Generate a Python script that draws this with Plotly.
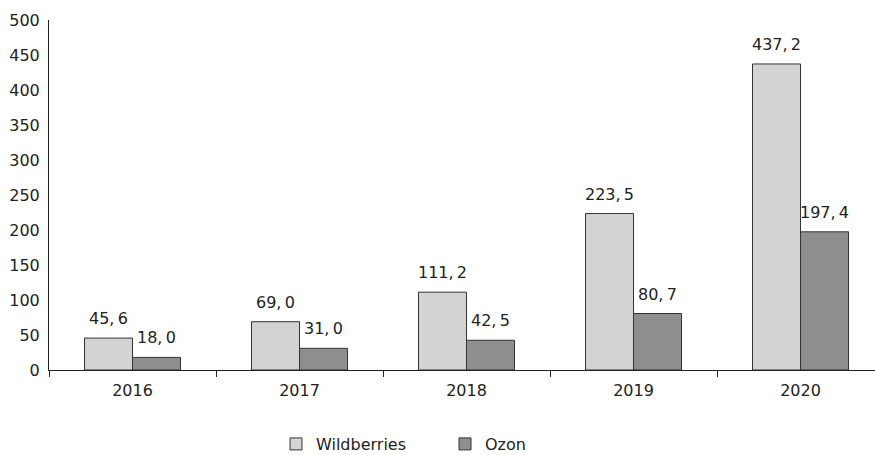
import plotly.graph_objects as go

years = ["2016", "2017", "2018", "2019", "2020"]
wildberries = [45.6, 69.0, 111.2, 223.5, 437.2]
ozon = [18.0, 31.0, 42.5, 80.7, 197.4]
y_ticks = [0, 50, 100, 150, 200, 250, 300, 350, 400, 450, 500]

def fmt(v):
    return f"{v:.1f}".replace(".", ",\u2009")

font = "DejaVu Sans"
fs = 16
fig = go.Figure()
fig.add_trace(go.Bar(name="Wildberries", x=years, y=wildberries,
                     marker=dict(color="#d3d3d3", line=dict(color="#333333", width=1))))
fig.add_trace(go.Bar(name="Ozon", x=years, y=ozon,
                     marker=dict(color="#8e8e8e", line=dict(color="#333333", width=1))))

for i, v in enumerate(wildberries):
    fig.add_annotation(x=i, y=v, xref="x", yref="y", text=fmt(v), showarrow=False, xshift=-24,
                       yanchor="bottom", yshift=8, font=dict(size=fs, color="#222", family=font))
for i, v in enumerate(ozon):
    fig.add_annotation(x=i, y=v, xref="x", yref="y", text=fmt(v), showarrow=False, xshift=24,
                       yanchor="bottom", yshift=8, font=dict(size=fs, color="#222", family=font))

fig.update_layout(
    width=875, height=455,
    margin=dict(l=49, r=0, t=20, b=85, autoexpand=False),
    plot_bgcolor="white", paper_bgcolor="white",
    barmode="group", bargap=0.425, bargroupgap=0,
    font=dict(family=font, size=fs, color="#222"),
    showlegend=True,
    legend=dict(orientation="h", xref="container", yref="container",
                x=276 / 875, xanchor="left", y=1 - 444 / 455, yanchor="middle",
                font=dict(size=fs), itemwidth=30, entrywidth=124, traceorder="normal"),
    xaxis=dict(type="category", range=[-0.5, 4.446], showline=True, linecolor="#222", linewidth=1,
               ticks="outside", tickson="boundaries", ticklen=6, tickcolor="#222",
               showgrid=False, zeroline=False, tickfont=dict(size=fs),
               ticklabelstandoff=6, automargin=False),
    yaxis=dict(range=[0, 500], tickvals=y_ticks, showline=True, linecolor="#222",
               linewidth=1, showgrid=False, zeroline=False, ticks="",
               ticklabelstandoff=5, tickfont=dict(size=fs), automargin=False),
)
fig.write_html("out.html", config={"displayModeBar": False},
               post_script="document.body.style.margin='0';")
